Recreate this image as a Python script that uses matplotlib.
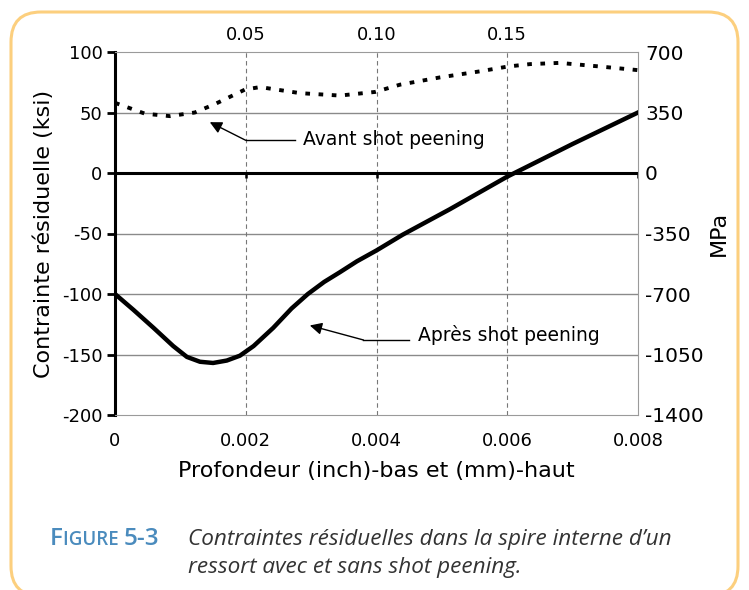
import matplotlib
matplotlib.use("Agg")
import matplotlib.pyplot as plt
from matplotlib.patches import FancyBboxPatch

# data (depth in inch, stress in ksi)
avant_x = [0, 0.00046, 0.00084, 0.00122, 0.00153, 0.00199, 0.00222, 0.00283,
           0.00344, 0.00398, 0.00436, 0.00497, 0.00558, 0.00601, 0.00635,
           0.00680, 0.00742, 0.008]
avant_y = [58, 49, 47, 50, 57, 69, 71, 66, 64, 67, 73, 79, 84, 88, 90, 91, 88, 85]

apres_x = [0, 0.00028, 0.00059, 0.00089, 0.0011, 0.0013, 0.0015, 0.00171,
           0.00191, 0.00212, 0.00242, 0.00270, 0.00295, 0.00320, 0.00344,
           0.0037, 0.004, 0.0044, 0.00512, 0.006, 0.007, 0.008]
apres_y = [-100, -113, -128, -143, -152, -156, -157, -155, -151, -143, -128,
           -112, -100, -90, -82, -73, -64, -51, -30, -3, 24, 50]

x_ticks = [0, 0.002, 0.004, 0.006, 0.008]
x_labels = ["0", "0.002", "0.004", "0.006", "0.008"]
mm_ticks = [0.002, 0.004, 0.006]
mm_labels = ["0.05", "0.10", "0.15"]
ksi_ticks = [-200, -150, -100, -50, 0, 50, 100]
mpa_ticks = [-1400, -1050, -700, -350, 0, 350, 700]

plt.rcParams['font.family'] = 'DejaVu Sans'
plt.rcParams['axes.unicode_minus'] = False
fig = plt.figure(figsize=(7.49, 5.90), dpi=100)

# rounded orange frame (in inches so the corners stay round)
frame = FancyBboxPatch((0.11, -0.06), 7.27, 5.84,
                       boxstyle="round,pad=0,rounding_size=0.3",
                       transform=fig.dpi_scale_trans, fill=False,
                       edgecolor="#fccf7e", linewidth=2.2, clip_on=False)
fig.patches.append(frame)

ax = fig.add_axes([115 / 749, 1 - 415 / 590, 523 / 749, 363 / 590])
ax.set_xlim(0, 0.008)
ax.set_ylim(-200, 100)

# grid
for y in [-150, -100, -50, 50]:
    ax.axhline(y, color="#8a8a8a", lw=1.0, zorder=1)
for x in mm_ticks:
    ax.axvline(x, color="#777777", lw=0.8, ls=(0, (4, 3)), zorder=1)
ax.axhline(0, color="black", lw=2.2, zorder=2)
ax.vlines(x_ticks[1:], -4, 0, color="black", lw=1.8, zorder=2)

ax.plot(avant_x, avant_y, color="black", lw=2.8, ls=(0, (1.2, 2.2)), zorder=3)
ax.plot(apres_x, apres_y, color="black", lw=3.2, zorder=3)

# annotations
ax.plot([0.002, 0.00275], [27, 27], color="black", lw=1.0)
ax.annotate("", xy=(0.00145, 42), xytext=(0.002, 27),
            arrowprops=dict(arrowstyle="-|>", color="black", lw=1.0,
                            mutation_scale=18, shrinkA=0, shrinkB=0))
ax.text(0.00288, 28, "Avant shot peening", fontsize=13.5, va="center", ha="left")

ax.plot([0.0038, 0.0045], [-138, -138], color="black", lw=1.0)
ax.annotate("", xy=(0.00298, -126), xytext=(0.0038, -138),
            arrowprops=dict(arrowstyle="-|>", color="black", lw=1.0,
                            mutation_scale=18, shrinkA=0, shrinkB=0))
ax.text(0.00464, -134, "Après shot peening", fontsize=13.5, va="center", ha="left")

# spines
ax.spines['left'].set_linewidth(2.2)
ax.spines['left'].set_color("black")
for s in ['top', 'right', 'bottom']:
    ax.spines[s].set_linewidth(0.8)
    ax.spines[s].set_color("#9a9a9a")
    ax.spines[s].set_linestyle((0, (1, 1)))

ax.set_xticks(x_ticks)
ax.set_xticklabels(x_labels)
ax.set_yticks(ksi_ticks)
ax.tick_params(axis='x', length=0, labelsize=13, pad=12)
ax.tick_params(axis='y', length=6, width=2, labelsize=13, pad=3)
ax.set_xlabel("Profondeur (inch)-bas et (mm)-haut", fontsize=16, labelpad=8)
ax.set_ylabel("Contrainte résiduelle (ksi)", fontsize=16, labelpad=6)

# right axis in MPa
ax2 = ax.twinx()
ax2.set_ylim(-1400, 700)
ax2.set_yticks(mpa_ticks)
ax2.tick_params(axis='y', length=0, labelsize=14.5, pad=5)
for s in ax2.spines.values():
    s.set_visible(False)
ax2.set_ylabel("MPa", fontsize=16, labelpad=4)

# top axis in mm
ax3 = ax.secondary_xaxis('top')
ax3.set_xticks(mm_ticks)
ax3.set_xticklabels(mm_labels)
ax3.tick_params(axis='x', length=0, labelsize=13, pad=6)
ax3.spines['top'].set_visible(False)

# caption, "FIGURE" in small caps built from pieces
blue = "#4a8bbd"
renderer = fig.canvas.get_renderer()
xpos = 50 / 749
ypos = 1 - 545 / 590
for piece, size in [("F", 17.5), ("IGURE ", 13.5), ("5-3", 17.5)]:
    t = fig.text(xpos, ypos, piece, fontsize=size, color=blue,
                 fontfamily="Open Sans", fontweight="semibold", va="baseline")
    bb = t.get_window_extent(renderer)
    xpos += bb.width / fig.bbox.width
fig.text(188 / 749, ypos, "Contraintes résiduelles dans la spire interne d\u2019un",
         fontsize=16.2, color="#333333", fontfamily="Open Sans", style="italic",
         va="baseline")
fig.text(188 / 749, 1 - 573 / 590, "ressort avec et sans shot peening.",
         fontsize=16.2, color="#333333", fontfamily="Open Sans", style="italic",
         va="baseline")

fig.savefig("out.png", dpi=100)
